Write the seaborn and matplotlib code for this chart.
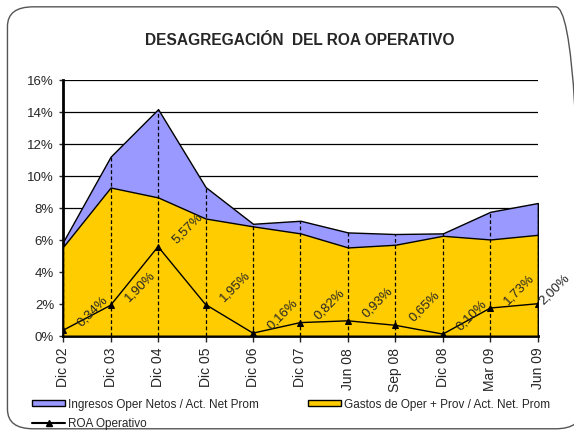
import numpy as np
import pandas as pd
import seaborn as sns
import matplotlib.pyplot as plt
from matplotlib.patches import FancyBboxPatch, Patch
from matplotlib.lines import Line2D
from matplotlib.ticker import FuncFormatter

periods = ["Dic 02", "Dic 03", "Dic 04", "Dic 05", "Dic 06", "Dic 07",
           "Jun 08", "Sep 08", "Dic 08", "Mar 09", "Jun 09"]
ingresos = [5.87, 11.20, 14.17, 9.30, 7.00, 7.19, 6.46, 6.36, 6.40, 7.75, 8.30]
gastos = [5.56, 9.27, 8.65, 7.33, 6.84, 6.40, 5.52, 5.69, 6.25, 6.02, 6.31]
roa = [0.34, 1.90, 5.57, 1.95, 0.16, 0.82, 0.93, 0.65, 0.10, 1.73, 2.00]

df = pd.DataFrame({"pos": np.arange(len(periods)), "periodo": periods,
                   "ingresos": ingresos, "gastos": gastos, "roa": roa})

sns.set_style("white")
plt.rcParams["font.family"] = ["Liberation Sans", "DejaVu Sans"]

fig = plt.figure(figsize=(5.74, 4.35), dpi=100)
ax = fig.add_axes([0.11, 0.226, 0.827, 0.588])

# frame around the chart (right side runs off the picture like the original)
fig.patches.append(FancyBboxPatch((0.013, 0.012), 1.0, 0.97,
                                  boxstyle="round,pad=0,rounding_size=0.045",
                                  transform=fig.transFigure, fill=False,
                                  edgecolor="#555555", linewidth=1.0))

blue = "#9999FF"
yellow = "#FFCC00"

ax.fill_between(df["pos"], df["ingresos"], color=blue, edgecolor="black",
                linewidth=1.0, zorder=2)
ax.fill_between(df["pos"], df["gastos"], color=yellow, edgecolor="black",
                linewidth=1.0, zorder=3)
ax.vlines(df["pos"], 0, df["ingresos"], colors="black", linestyles=(0, (3, 2)),
          linewidth=0.9, zorder=4)

sns.lineplot(data=df, x="pos", y="roa", ax=ax, color="black", marker="^",
             markersize=5, markeredgecolor="black", linewidth=1.0, zorder=5)

# data labels up and to the right of each point, last one pulled in
last = len(periods) - 1
for x, v in zip(df["pos"], df["roa"]):
    dx, dy = (12, 11) if x == last else (21, 14)
    ax.annotate(f"{v:.2f}%".replace(".", ","), (x, v), xytext=(dx, dy),
                textcoords="offset points", ha="center", va="center",
                rotation=45, fontsize=9.5, zorder=6)

ax.set_xlim(0, last)
ax.set_ylim(0, 16)
ax.set_yticks(np.arange(0, 17, 2))
ax.yaxis.set_major_formatter(FuncFormatter(lambda v, p: f"{v:.0f}%"))
ax.set_xticks(df["pos"])
ax.set_xticklabels(periods, rotation=90, fontsize=10)
ax.tick_params(axis="y", labelsize=9.5, length=3, width=1, direction="out", left=True)
ax.tick_params(axis="x", length=4, width=1, direction="out", bottom=True, pad=4)
ax.set_xlabel("")
ax.set_ylabel("")

ax.yaxis.grid(True, color="black", linewidth=0.9)
ax.set_axisbelow(True)
for s in ["top", "right"]:
    ax.spines[s].set_visible(False)
ax.spines["left"].set_linewidth(2)
ax.spines["bottom"].set_linewidth(2)
ax.spines["left"].set_color("black")
ax.spines["bottom"].set_color("black")

fig.text(0.523, 0.907, "DESAGREGACIÓN  DEL ROA OPERATIVO", ha="center",
         va="center", fontsize=11.2, fontweight="bold")

handles = [Patch(facecolor=blue, edgecolor="black", label="Ingresos Oper Netos / Act. Net Prom"),
           Line2D([], [], color="black", marker="^", markersize=4,
                  label="ROA Operativo"),
           Patch(facecolor=yellow, edgecolor="black",
                 label="Gastos de Oper + Prov / Act. Net. Prom")]
fig.legend(handles=handles, loc="lower left", bbox_to_anchor=(0.048, 0.0),
           ncol=2, frameon=False, fontsize=8.5, handlelength=2.8,
           handleheight=0.5, handletextpad=0.2, columnspacing=4.2,
           labelspacing=0.6, borderaxespad=0)

fig.savefig("out.png", dpi=100)
